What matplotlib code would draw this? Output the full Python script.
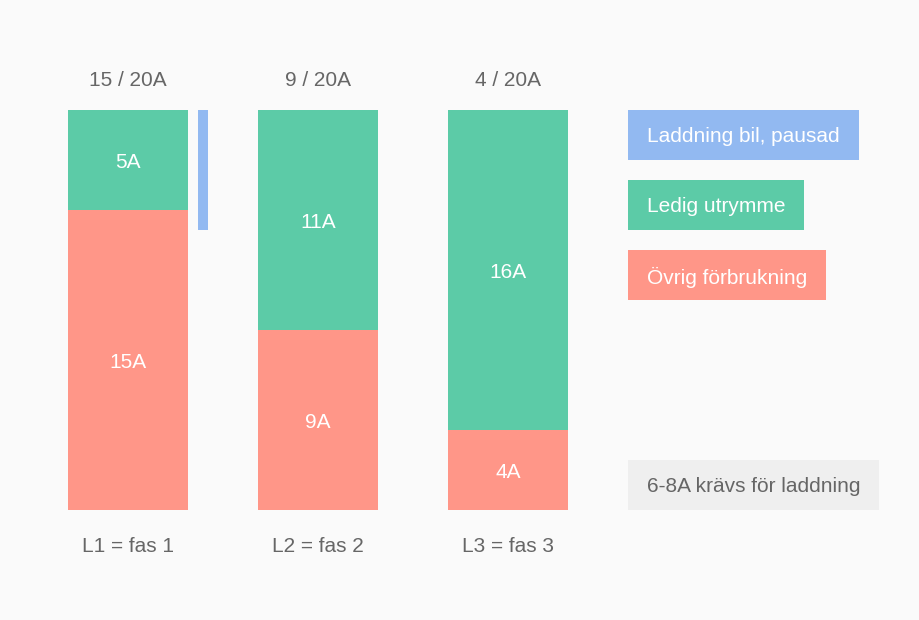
import matplotlib
matplotlib.use("Agg")
import matplotlib.pyplot as plt
from matplotlib.patches import Rectangle

plt.rcParams['font.family'] = ['Liberation Sans', 'DejaVu Sans']

# data
phases = ["L1 = fas 1", "L2 = fas 2", "L3 = fas 3"]
used = [15, 9, 4]          # Övrig förbrukning
free = [5, 11, 16]         # Ledig utrymme
capacity = 20
paused_charge = 6          # Laddning bil, pausad (bara L1)
legend_labels = ["Laddning bil, pausad", "Ledig utrymme", "Övrig förbrukning"]
note = "6-8A krävs för laddning"

GREEN = "#5ccba7"
RED = "#ff9688"
BLUE = "#92b9f1"
GREY_TXT = "#666666"
BG = "#fafafa"

W, H = 920, 620
fig = plt.figure(figsize=(W / 100, H / 100), dpi=100, facecolor=BG)

# bar area: 0..20A between y=510px and y=110px, one category = 190px
step = 190.0
x0 = 128.0
ax = fig.add_axes([0, (H - 510) / H, 1, 400 / H])
ax.set_facecolor("none")
ax.set_xlim(-x0 / step, (W - x0) / step)
ax.set_ylim(0, capacity)
ax.axis("off")

bw = 120 / step
xs = list(range(len(phases)))
ax.bar(xs, used, width=bw, color=RED, linewidth=0)
ax.bar(xs, free, bottom=used, width=bw, color=GREEN, linewidth=0)
# paused charging bar beside L1
ax.bar(xs[0] + 75 / step, paused_charge, bottom=capacity - paused_charge,
       width=10 / step, color=BLUE, linewidth=0)

fs = 15
dy = -0.1  # small nudge so the text sits on the visual centre
for i in xs:
    ax.text(i, used[i] / 2 + dy, f"{used[i]}A", color="white", ha="center", va="center", fontsize=fs)
    ax.text(i, used[i] + free[i] / 2 + dy, f"{free[i]}A", color="white", ha="center", va="center", fontsize=fs)
    ax.text(i, capacity + 1.6 + dy, f"{used[i]} / {capacity}A", color=GREY_TXT,
            ha="center", va="center", fontsize=fs, clip_on=False)
    ax.text(i, -1.75 + dy, phases[i], color=GREY_TXT, ha="center", va="center",
            fontsize=fs, clip_on=False)

# legend boxes (pixel layout)
fig.canvas.draw()
renderer = fig.canvas.get_renderer()

def box(label, top, color, txtcolor):
    t = fig.text((628 + 19) / W, 1 - (top + 27) / H, label, color=txtcolor,
                 ha="left", va="center", fontsize=fs, zorder=3)
    wpx = t.get_window_extent(renderer).width
    fig.patches.append(Rectangle((628 / W, 1 - (top + 50) / H), (wpx + 38) / W, 50 / H,
                                 transform=fig.transFigure, facecolor=color,
                                 edgecolor="none", zorder=1))

box(legend_labels[0], 110, BLUE, "white")
box(legend_labels[1], 180, GREEN, "white")
box(legend_labels[2], 250, RED, "white")
box(note, 460, "#efefef", GREY_TXT)

fig.savefig("out.png", dpi=100, facecolor=BG)
